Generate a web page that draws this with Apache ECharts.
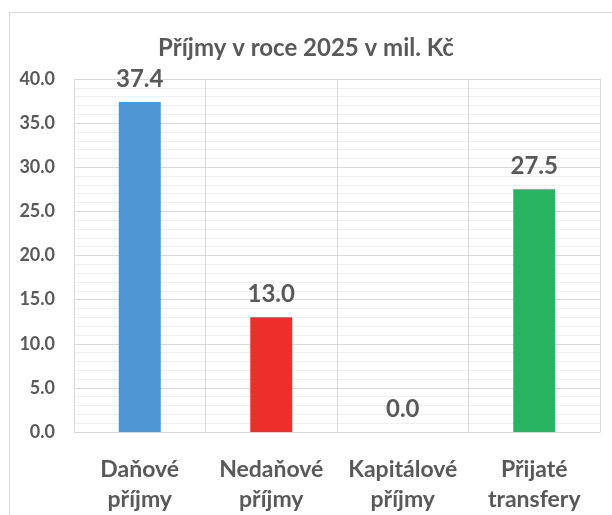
<!DOCTYPE html>
<html><head><meta charset="utf-8">
<script src="https://cdn.jsdelivr.net/npm/echarts@6/dist/echarts.min.js"></script>
<style>html,body{margin:0;padding:0;background:#fff}#c{width:612px;height:515px}</style>
</head><body><div id="c"></div>
<script>
const titleText = 'Příjmy v roce 2025 v mil. Kč';
const categories = ['Daňové\npříjmy', 'Nedaňové\npříjmy', 'Kapitálové\npříjmy', 'Přijaté\ntransfery'];
const values = [37.4, 13.0, 0.0, 27.5];
const colorsAll = ['#4e95d4', '#ee2e2b', '#999999', '#29b462'];
const yMin = 0, yMax = 40, yStep = 5;

const FONT = 'Lato, "Open Sans", sans-serif';
const TXT = '#595959';
const chart = echarts.init(document.getElementById('c'), null, {renderer: 'canvas'});
chart.setOption({
  animation: false,
  backgroundColor: '#fff',
  graphic: [{
    type: 'rect', left: 7, top: 10, z: -1,
    shape: {x: 0, y: 0, width: 700, height: 600},
    style: {fill: 'none', stroke: '#d9d9d9', lineWidth: 1}
  }],
  title: {
    text: titleText, left: 'center', top: 31,
    textStyle: {fontFamily: FONT, fontWeight: 'bold', fontSize: 24, color: TXT}
  },
  grid: {left: 74, right: 12, top: 79, bottom: 83},
  xAxis: {
    type: 'category', data: categories,
    axisLine: {show: true, lineStyle: {color: '#d9d9d9'}},
    axisTick: {show: false},
    splitLine: {show: true, lineStyle: {color: '#d9d9d9'}},
    axisLabel: {fontFamily: FONT, fontWeight: 'bold', fontSize: 23, color: TXT, lineHeight: 30, margin: 23, interval: 0}
  },
  yAxis: {
    type: 'value', min: yMin, max: yMax, interval: yStep,
    axisLine: {show: true, lineStyle: {color: '#d9d9d9'}},
    axisTick: {show: false},
    splitLine: {show: true, lineStyle: {color: '#d9d9d9'}},
    minorTick: {show: false, splitNumber: 5},
    minorSplitLine: {show: true, lineStyle: {color: '#f0f0f0'}},
    axisLabel: {fontFamily: FONT, fontWeight: 'bold', fontSize: 18, color: TXT, margin: 19,
      formatter: v => v.toFixed(1)}
  },
  series: [{
    type: 'bar', barWidth: 42,
    data: values.map((v, i) => ({value: v, itemStyle: {color: colorsAll[i]}})),
    label: {show: true, position: 'top', distance: 11,
      fontFamily: FONT, fontWeight: 'bold', fontSize: 24, color: TXT,
      formatter: p => p.value.toFixed(1)}
  }]
});
</script></body></html>
